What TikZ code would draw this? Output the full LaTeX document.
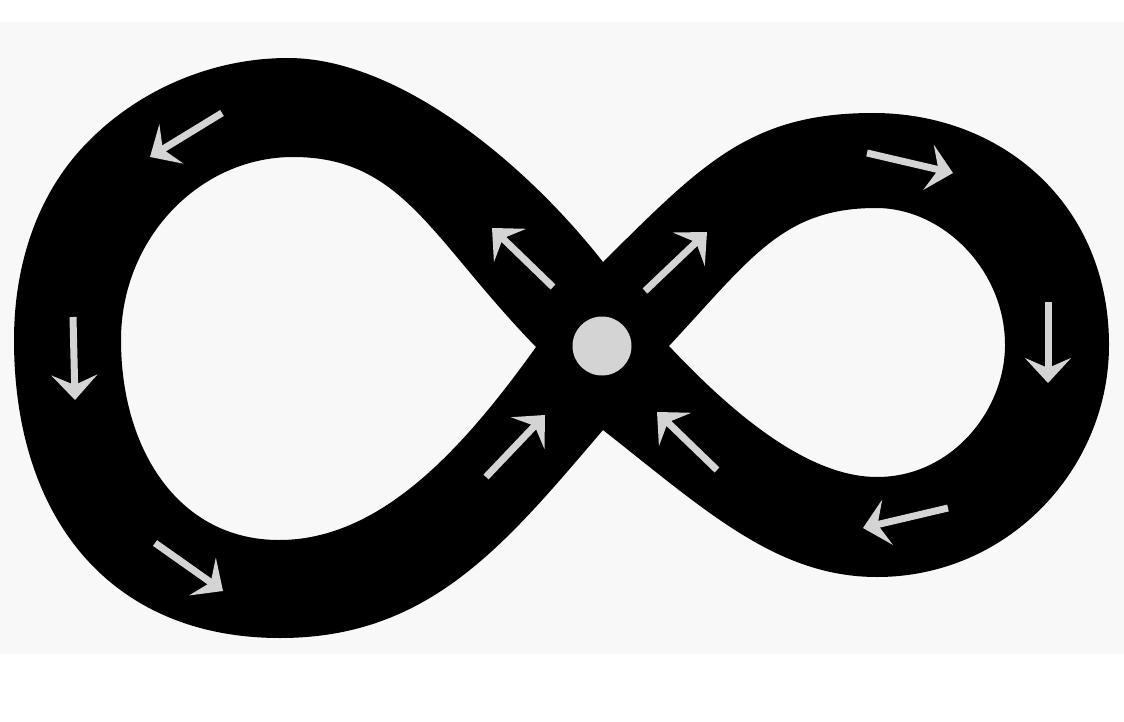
\documentclass[tikz,border=0pt]{standalone}
\usetikzlibrary{arrows.meta}
\definecolor{bandbg}{RGB}{248,248,248}
\definecolor{arrowgray}{RGB}{212,212,212}
\begin{document}
\begin{tikzpicture}[x=1pt,y=-1pt,
  flow/.style={draw=arrowgray, line width=7pt, -{Stealth[length=25pt,width=46pt,inset=10pt]}},
  hubdot/.style={circle, fill=arrowgray, inner sep=0pt, minimum size=59pt}]
\useasboundingbox (0,0) rectangle (1124,722);
\fill[white] (0,0) rectangle (1124,722);
\fill[bandbg] (0,22) rectangle (1124,654);
% the band of the figure eight
\fill[black, even odd rule]
  (603,262) .. controls (522,159) and (396,58) .. (288,58)
  .. controls (211,58) and (135.4,90.8) .. (83,147)
  .. controls (34.7,198.8) and (14,269) .. (14,340)
  .. controls (14,520) and (112,638) .. (280,638)
  .. controls (430,638) and (505.5,544) .. (603,430)
  .. controls (706,511) and (777,577) .. (877,577)
  .. controls (1007,577) and (1109,470) .. (1109,345)
  .. controls (1109,205) and (1003,113) .. (873,113)
  .. controls (750,113) and (702,164) .. (603,262) -- cycle
  (536,347) .. controls (431,239) and (403,157) .. (293,157)
  .. controls (200,157) and (121,238) .. (121,340)
  .. controls (121,450) and (179,540) .. (279,540)
  .. controls (379,540) and (461,452) .. (536,347) -- cycle
  (669,346) .. controls (751,258) and (783,208) .. (876,208)
  .. controls (943,208) and (1005,270) .. (1005,345)
  .. controls (1005,410) and (952,477) .. (877,477)
  .. controls (807,477) and (731,412) .. (669,346) -- cycle;
% centre dot
\node[hubdot] (hub) at (602,346) {};
% flow arrows
\draw[flow] (222,113) -- (150,157);
\draw[flow] (73,317) -- (75,400);
\draw[flow] (155,543) -- (223,591);
\draw[flow] (486,477) -- (545,415);
\draw[flow] (553,287) -- (492,228);
\draw[flow] (645,291) -- (707,232);
\draw[flow] (867,153) -- (953,173);
\draw[flow] (1048,302) -- (1048,383);
\draw[flow] (948,508) -- (863,528);
\draw[flow] (717,470) -- (657,412);
\end{tikzpicture}
\end{document}
